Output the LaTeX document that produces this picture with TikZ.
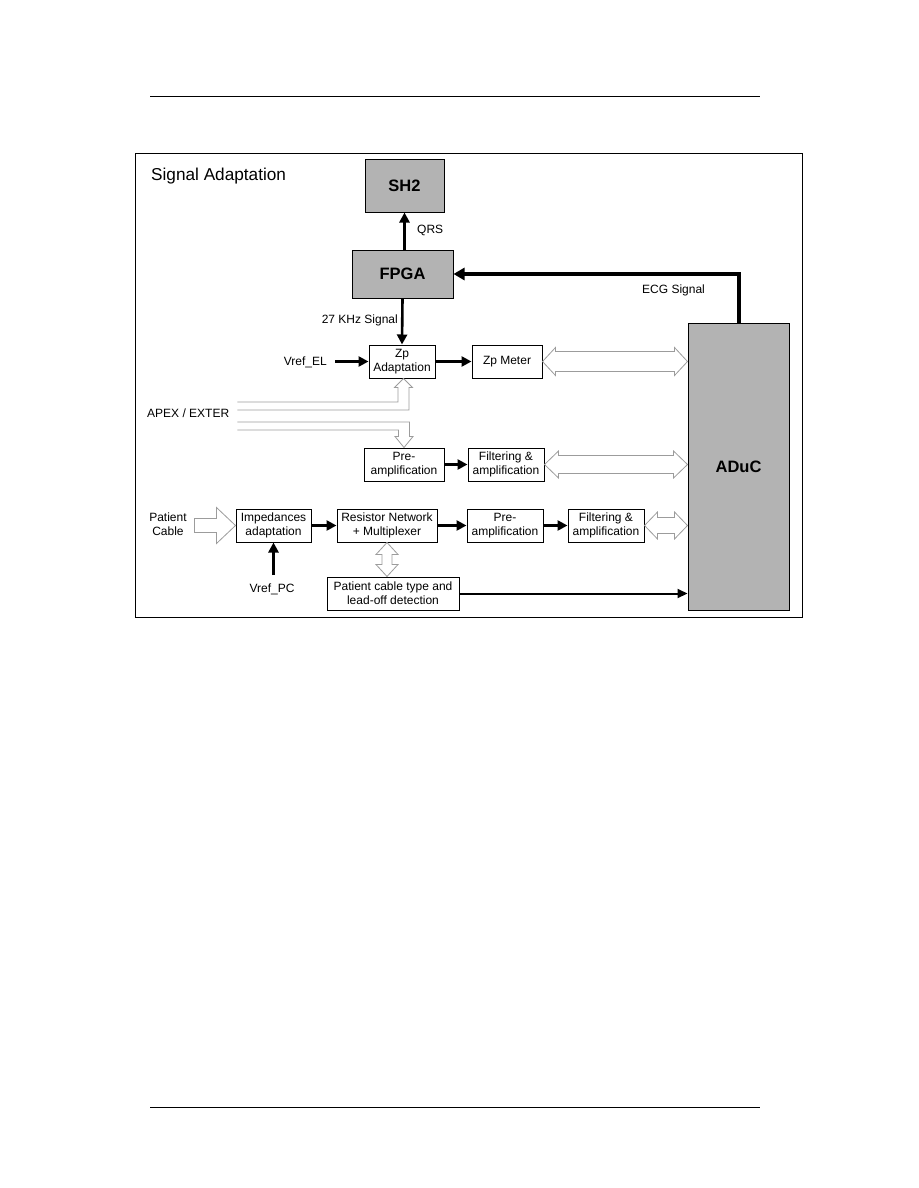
\documentclass[tikz,border=0pt]{standalone}
\usepackage{fontspec}
\setmainfont{Liberation Sans}
\usetikzlibrary{arrows.meta,calc}
\definecolor{boxgray}{HTML}{B3B3B3}
\definecolor{hollowgray}{HTML}{9C9C9C}
\tikzset{
  every node/.style={font=\fontsize{12}{14}\selectfont, inner sep=0pt},
  blk/.style={draw, line width=1pt, fill=white, align=center},
  gblk/.style={draw, line width=1pt, fill=boxgray, font=\fontsize{16.5}{18}\selectfont\bfseries},
  sig/.style={line width=2.6pt, -{Triangle[length=10pt,width=10pt]}},
  thinsig/.style={line width=2pt, -{Triangle[length=10pt,width=9pt]}},
  hollow/.style={draw=hollowgray, line width=0.8pt, fill=white, line join=miter},
}
% horizontal hollow double arrow: #1 left tip, #2 right tip, #3 half shaft, #4 half head, #5 head length
\newcommand\hollowH[5]{\draw[hollow] (#1) -- ($(#1)+(#5,-#4)$) -- ($(#1)+(#5,-#3)$) -- ($(#2)+(-#5,-#3)$) -- ($(#2)+(-#5,-#4)$) -- (#2) -- ($(#2)+(-#5,#4)$) -- ($(#2)+(-#5,#3)$) -- ($(#1)+(#5,#3)$) -- ($(#1)+(#5,#4)$) -- cycle;}
% vertical hollow double arrow: #1 top tip, #2 bottom tip
\newcommand\hollowV[5]{\draw[hollow] (#1) -- ($(#1)+(#4,#5)$) -- ($(#1)+(#3,#5)$) -- ($(#2)+(#3,-#5)$) -- ($(#2)+(#4,-#5)$) -- (#2) -- ($(#2)+(-#4,-#5)$) -- ($(#2)+(-#3,-#5)$) -- ($(#1)+(-#3,#5)$) -- ($(#1)+(-#4,#5)$) -- cycle;}
\begin{document}
\begin{tikzpicture}[x=1pt,y=-1pt]
\useasboundingbox (0,0) rectangle (918,1188);
\fill[white] (0,0) rectangle (918,1188);
% page rules
\draw[line width=1pt] (150,97) -- (760,97);
\draw[line width=1pt] (150,1107) -- (760,1107);
% frame
\node[draw, line width=1pt, minimum width=667, minimum height=464] (frame) at (468.5,385) {};
\node[anchor=base west, font=\fontsize{17.2}{20}\selectfont] (title) at (151,180) {Signal Adaptation};
% gray blocks
\node[gblk, minimum width=79, minimum height=53] (sh2) at (404.5,185.5) {SH2};
\node[gblk, minimum width=101, minimum height=48] (fpga) at (402.5,274) {FPGA};
\node[gblk, minimum width=101, minimum height=287] (aduc) at (738.5,466.5) {ADuC};
% white blocks
\node[blk, minimum width=66, minimum height=33] (zpa) at (402,361.5) {Zp\\Adaptation};
\node[blk, minimum width=70, minimum height=33] (zpm) at (507,361.5) {Zp Meter};
\node[blk, minimum width=80, minimum height=33] (pre1) at (404,464.5) {Pre-\\amplification};
\node[blk, minimum width=76, minimum height=33] (fil1) at (506,464.5) {Filtering \&\\amplification};
\node[blk, minimum width=75, minimum height=33] (imp) at (273.5,525.5) {Impedances\\adaptation};
\node[blk, minimum width=100, minimum height=33] (res) at (387,525.5) {Resistor Network\\+ Multiplexer};
\node[blk, minimum width=76, minimum height=33] (pre2) at (505,525.5) {Pre-\\amplification};
\node[blk, minimum width=76, minimum height=33] (fil2) at (606,525.5) {Filtering \&\\amplification};
\node[blk, minimum width=132, minimum height=33] (pc) at (393,593.5) {Patient cable type and\\lead-off detection};
% labels
\node[anchor=west] (qrs) at (417,230) {QRS};
\node[anchor=east] (khz) at (398,320) {27 KHz Signal};
\node[anchor=west] (ecg) at (642,290) {ECG Signal};
\node[anchor=east] (vrefel) at (327,362) {Vref\_EL};
\node[anchor=west] (apex) at (147,413) {APEX / EXTER};
\node[align=center] (pcab) at (168,524.5) {Patient\\Cable};
\node (vrefpc) at (272,589) {Vref\_PC};
% black connectors
\draw[sig] (fpga.north -| sh2.south) -- (sh2.south);
\draw[sig] (fpga.south) -- (zpa.north);
\draw[line width=4pt, line join=miter, -{Triangle[length=11pt,width=12pt]}] (aduc.north) |- (fpga.east);
\coordinate (velS) at (335,361.5);
\draw[sig] (velS) -- (zpa.west);
\draw[sig] (zpa.east) -- (zpm.west);
\draw[sig] (pre1.east) -- (fil1.west);
\coordinate (vpcT) at (273.5,575);
\draw[sig] (vpcT) -- (imp.south);
\draw[sig] (imp.east) -- (res.west);
\draw[sig] (res.east) -- (pre2.west);
\draw[sig] (pre2.east) -- (fil2.west);
\draw[thinsig] (pc.east) -- (aduc.west |- pc.east);
% hollow double arrows to ADuC
\coordinate (zpmR) at (aduc.west |- zpm.east);
\hollowH{zpm.east}{zpmR}{10}{14}{13}
\coordinate (fil1R) at (aduc.west |- fil1.east);
\hollowH{fil1.east}{fil1R}{9}{13.5}{14}
\coordinate (fil2R) at (aduc.west |- fil2.east);
\hollowH{fil2.east}{fil2R}{8}{13.5}{13}
% resistor network <-> patient cable detection
\coordinate (pcT) at (pc.north -| res.south);
\hollowV{res.south}{pcT}{5}{11}{12}
% patient cable input
\draw[hollow] (imp.west) -- ++(-19,-18) -- ++(0,11) -- ++(-22,0) -- ++(0,14) -- ++(22,0) -- ++(0,11) -- cycle;
% APEX / EXTER bent hollow arrows
\coordinate (a1) at ($(apex.east)+(8,-11)$);
\coordinate (a2) at ($(apex.east)+(8,-3)$);
\coordinate (a3) at ($(apex.east)+(8,9)$);
\coordinate (a4) at ($(apex.east)+(8,17)$);
\coordinate (zT) at ($(zpa.south)+(1.5,0)$);
\coordinate (zL) at ($(zT)+(-5.5,0)$);
\coordinate (zR) at ($(zT)+(5.5,0)$);
\draw[hollow, fill=none] (a1) -- (a1 -| zL) -- ($(zT)+(-5.5,9)$) -- ($(zT)+(-9,9)$) -- (zT) -- ($(zT)+(9,9)$) -- ($(zT)+(5.5,9)$) -- (a2 -| zR) -- (a2);
\coordinate (pT) at (pre1.north);
\coordinate (pL) at ($(pT)+(-5.5,0)$);
\coordinate (pR) at ($(pT)+(5.5,0)$);
\draw[hollow, fill=none] (a3) -- (a3 -| pR) -- ($(pT)+(5.5,-11)$) -- ($(pT)+(9,-11)$) -- (pT) -- ($(pT)+(-9,-11)$) -- ($(pT)+(-5.5,-11)$) -- (a4 -| pL) -- (a4);
\end{tikzpicture}
\end{document}
